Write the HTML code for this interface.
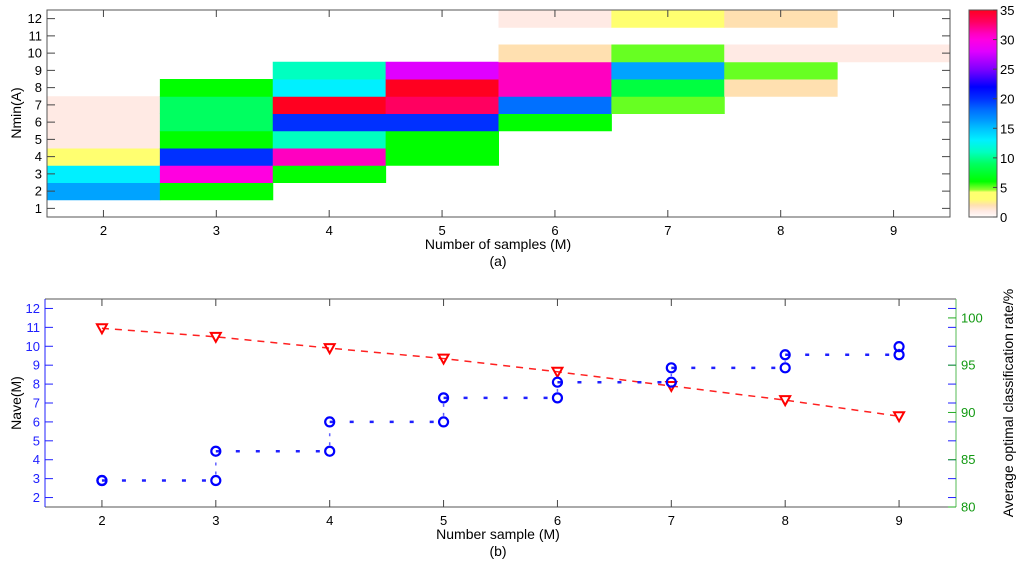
<!DOCTYPE html>
<html><head><meta charset="utf-8"><style>
body{margin:0;background:#fff;}
svg{display:block;font-family:"Liberation Sans",Arial,sans-serif;}
</style></head><body>
<svg id="c" width="1024" height="567"></svg>
<script>
// ---- data (a) heatmap ----
const heatCols = [2,3,4,5,6,7,8,9];
const heatRows = [1,2,3,4,5,6,7,8,9,10,11,12];
// heatVals[colIndex][rowIndex] ; 0 = empty
const heatVals = [
 [0,16,13,3,1,1,1,0,0,0,0,0],
 [0,6,30,20,6,9,9,6,0,0,0,0],
 [0,0,6,31,11,20,35,13,11,0,0,0],
 [0,0,0,6,6,20,33,35,28,0,0,0],
 [0,0,0,0,0,6,18,31,31,2,0,1],
 [0,0,0,0,0,0,5,8,16,5,0,3],
 [0,0,0,0,0,0,0,2,5,1,0,2],
 [0,0,0,0,0,0,0,0,0,1,0,0]
];
const cbTicks = [0,5,10,15,20,25,30,35];
// ---- data (b) ----
const xs = [2,3,4,5,6,7,8,9];
const rate = [98.9,98.0,96.8,95.7,94.3,92.8,91.3,89.6];
const naveLow  = [2.9,2.9,4.45,6.0,7.27,8.1,8.86,9.55];
const naveHigh = [2.9,4.45,6.0,7.27,8.1,8.86,9.55,9.98];
const leftTicks = [2,3,4,5,6,7,8,9,10,11,12];
const rightTicks = [80,85,90,95,100];

const NS="http://www.w3.org/2000/svg";
const svg=document.getElementById('c');
function mk(tag,attrs,parent){const e=document.createElementNS(NS,tag);for(const k in attrs)e.setAttribute(k,attrs[k]);(parent||svg).appendChild(e);return e;}
function txt(s,attrs,parent){const e=mk('text',attrs,parent);e.textContent=s;return e;}

const stops=[[0,'#ffffff'],[0.5,'#fff2ee'],[1,'#ffeae4'],[2,'#ffe0b0'],[3,'#ffff70'],[4.2,'#ffff70'],[4.6,'#90ff30'],[6,'#00ff00'],[9,'#00ff60'],[11,'#00ffc0'],[13,'#00f0ff'],[15,'#00c0ff'],[16.5,'#0095ff'],[18,'#0070ff'],[20,'#0030ff'],[22,'#0000ff'],[25,'#8000ff'],[28,'#e000ff'],[30,'#ff00e0'],[31,'#ff00c0'],[33,'#ff0060'],[35,'#ff0020']];
function hex(h){return [1,3,5].map(i=>parseInt(h.substr(i,2),16));}
function cmap(v){for(let i=1;i<stops.length;i++){if(v<=stops[i][0]){const a=stops[i-1],b=stops[i];const t=(v-a[0])/(b[0]-a[0]);const ca=hex(a[1]),cb=hex(b[1]);return 'rgb('+ca.map((c,j)=>Math.round(c+(cb[j]-c)*t)).join(',')+')';}}return stops[stops.length-1][1];}

// ---- panel (a) ----
const A={l:47,r:950,t:10,b:217};
const ax=v=>A.l+(v-1.5)/8*(A.r-A.l);
const ay=v=>A.b-(v-0.5)/12*(A.b-A.t);
const ga=mk('g',{});
heatCols.forEach((c,i)=>heatRows.forEach((r,j)=>{const v=heatVals[i][j];if(!v)return;
 const e=mk('rect',{x:ax(c-0.5),y:ay(r+0.5),width:ax(c+0.5)-ax(c-0.5)+0.5,height:ay(r-0.5)-ay(r+0.5)+0.5,fill:cmap(v)},ga);
 
 }));
mk('rect',{x:A.l,y:A.t,width:A.r-A.l,height:A.b-A.t,fill:'none',stroke:'#555','stroke-width':1,},ga);
heatCols.forEach(c=>{const x=ax(c);mk('line',{x1:x,x2:x,y1:A.b,y2:A.b-7,stroke:'#444'},ga);mk('line',{x1:x,x2:x,y1:A.t,y2:A.t+7,stroke:'#444'},ga);
 const t=txt(c,{x:x,y:A.b+18,'font-size':13,'text-anchor':'middle'},ga);});
heatRows.forEach(r=>{const y=ay(r);mk('line',{x1:A.l,x2:A.l+8,y1:y,y2:y,stroke:'#444'},ga);mk('line',{x1:A.r,x2:A.r-8,y1:y,y2:y,stroke:'#444'},ga);
 const t=txt(r,{x:A.l-5,y:y+4.5,'font-size':13,'text-anchor':'end'},ga);});
txt('Number of samples (M)',{x:498,y:249,'font-size':14,'text-anchor':'middle',},ga);
txt('(a)',{x:498,y:266,'font-size':14,'text-anchor':'middle',},ga);
txt('Nmin(A)',{x:0,y:0,'font-size':14,'text-anchor':'middle',transform:'translate(21,113) rotate(-90)',},ga);
// colorbar
const CB={l:969,r:997,t:10,b:217};
const defs=mk('defs',{});
const lg=mk('linearGradient',{id:'cbg',x1:0,y1:1,x2:0,y2:0},defs);
stops.forEach(s=>mk('stop',{offset:(s[0]/35),'stop-color':s[1]},lg));
const gc=mk('g',{});
mk('rect',{x:CB.l,y:CB.t,width:CB.r-CB.l,height:CB.b-CB.t,fill:'url(#cbg)',stroke:'#555'},gc);
cbTicks.forEach(v=>{const y=CB.b-v/35*(CB.b-CB.t);mk('line',{x1:CB.r,x2:CB.r-4,y1:y,y2:y,stroke:'#444'},gc);
 const t=txt(v,{x:CB.r+3,y:y+5,'font-size':13},gc);});

// ---- panel (b) ----
const B={l:45,r:956,t:299,b:507};
const bx=v=>B.l+(v-1.5)/8*(B.r-B.l);
const byL=v=>B.b-(v-1.5)/11*(B.b-B.t);
const byR=v=>B.b-(v-80)/22*(B.b-B.t);
const gb=mk('g',{});
mk('line',{x1:B.l,x2:B.r,y1:B.t,y2:B.t,stroke:'#555'},gb);
mk('line',{x1:B.l,x2:B.r,y1:B.b,y2:B.b,stroke:'#555'},gb);
mk('line',{x1:B.l,x2:B.l,y1:B.t,y2:B.b,stroke:'#2020ff',},gb);
mk('line',{x1:B.r,x2:B.r,y1:B.t,y2:B.b,stroke:'#55bb55',},gb);
xs.forEach(c=>{const x=bx(c);mk('line',{x1:x,x2:x,y1:B.b,y2:B.b-7,stroke:'#444'},gb);mk('line',{x1:x,x2:x,y1:B.t,y2:B.t+7,stroke:'#444'},gb);
 const t=txt(c,{x:x,y:B.b+18,'font-size':13,'text-anchor':'middle'},gb);});
leftTicks.forEach(v=>{const y=byL(v);mk('line',{x1:B.l,x2:B.l+8,y1:y,y2:y,stroke:'#2020ff'},gb);mk('line',{x1:B.r,x2:B.r-8,y1:y,y2:y,stroke:'#2020ff'},gb);
 const t=txt(v,{x:B.l-5,y:y+4.5,'font-size':13,'text-anchor':'end',fill:'#2020ff'},gb);});
rightTicks.forEach(v=>{const y=byR(v);mk('line',{x1:B.r,x2:B.r-8,y1:y,y2:y,stroke:'#22aa22'},gb);
 const t=txt(v,{x:B.r+5,y:y+4.5,'font-size':13,fill:'#119911'},gb);});
txt('Number sample (M)',{x:498,y:539,'font-size':14,'text-anchor':'middle',},gb);
txt('(b)',{x:498,y:556,'font-size':14,'text-anchor':'middle',},gb);
txt('Nave(M)',{x:0,y:0,'font-size':14,'text-anchor':'middle',transform:'translate(21,403) rotate(-90)',},gb);
txt('Average optimal classification rate/%',{x:0,y:0,'font-size':14,'text-anchor':'middle',transform:'translate(1013,403) rotate(-90)',},gb);
// red series
const rp=xs.map((x,i)=>bx(x)+','+byR(rate[i])).join(' ');
mk('polyline',{points:rp,fill:'none',stroke:'#ff2020','stroke-width':1.5,'stroke-dasharray':'7,6',},gb);
xs.forEach((x,i)=>{const cx=bx(x),cy=byR(rate[i]);
 const p=mk('polygon',{points:(cx-5)+','+(cy-4)+' '+(cx+5)+','+(cy-4)+' '+cx+','+(cy+5),fill:'none',stroke:'#ff0000','stroke-width':2},gb);
 
 });
// blue series
xs.forEach((x,i)=>{const cx=bx(x);
 if(i<xs.length-1){mk('line',{x1:cx,x2:bx(xs[i+1]),y1:byL(naveHigh[i]),y2:byL(naveLow[i+1]),stroke:'#2020ff','stroke-width':2.5,'stroke-dasharray':'4,16',},gb);}
 if(naveHigh[i]!==naveLow[i])mk('line',{x1:cx,x2:cx,y1:byL(naveLow[i])-6,y2:byL(naveHigh[i])+6,stroke:'#6060ff','stroke-width':1.5,'stroke-dasharray':'3,6'},gb);
 [naveLow[i],naveHigh[i]].forEach(v=>{const c=mk('circle',{cx:cx,cy:byL(v),r:4.5,fill:'none',stroke:'#0000ff','stroke-width':2.2},gb);
  
  });});
</script>
</body></html>
